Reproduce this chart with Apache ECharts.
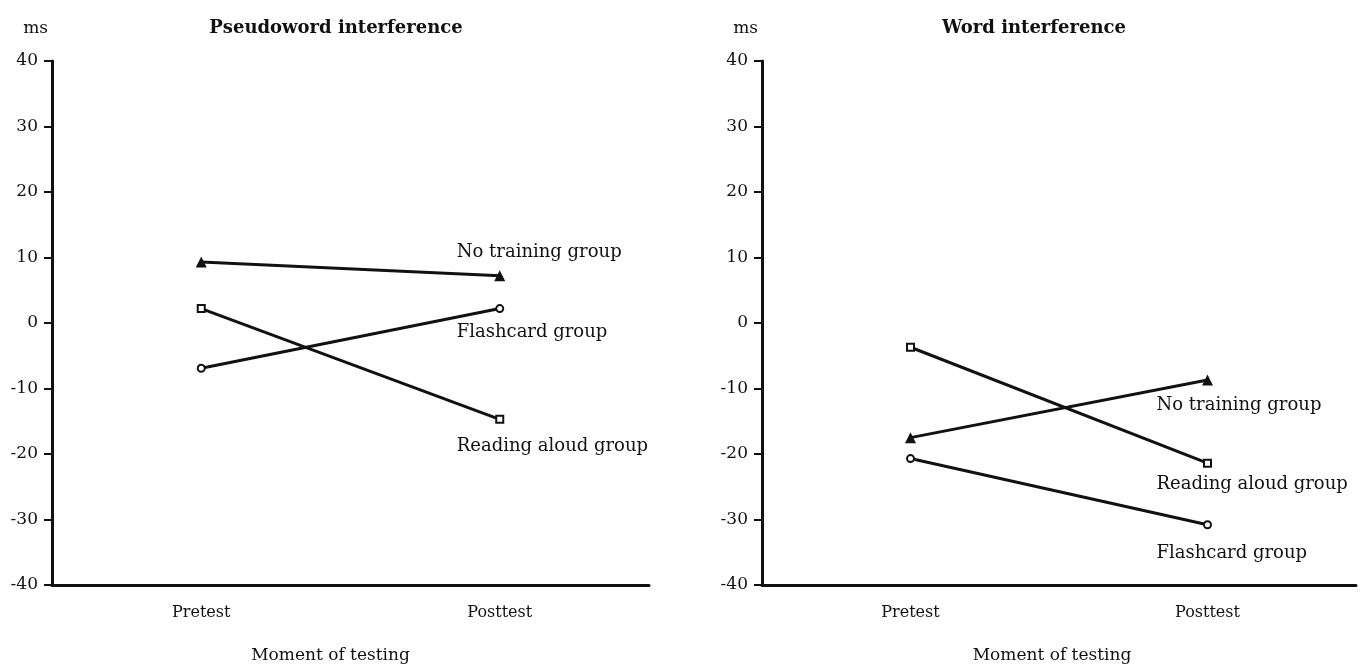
<!DOCTYPE html>
<html>
<head>
<meta charset="utf-8">
<script src="https://cdn.jsdelivr.net/npm/echarts@6/dist/echarts.min.js"></script>
<style>
  html, body { margin: 0; padding: 0; background: #fff; }
  #chart { width: 1360px; height: 669px; }
</style>
</head>
<body>
<div id="chart"></div>
<script>
// data
var moments = ['Pretest', 'Posttest'];
var yTicks = [-40, -30, -20, -10, 0, 10, 20, 30, 40];
var panelTitles = ['Pseudoword interference', 'Word interference'];

// pseudoword panel (ms)
var pseudoNoTraining = [9.3, 7.2];
var pseudoReadingAloud = [2.2, -14.7];
var pseudoFlashcard = [-6.9, 2.2];

// word panel (ms)
var wordNoTraining = [-17.5, -8.7];
var wordReadingAloud = [-3.7, -21.4];
var wordFlashcard = [-20.7, -30.8];

var font = 'DejaVu Serif';
var ink = '#111';

var chart = echarts.init(document.getElementById('chart'));

function xAxisFor(idx, shift) {
  return {
    type: 'category',
    gridIndex: idx,
    data: moments,
    boundaryGap: true,
    name: 'Moment of testing',
    nameLocation: 'middle',
    nameGap: 62,
    nameTextStyle: { fontFamily: font, fontSize: 17, color: ink, padding: [0, shift, 0, 0] },
    axisLine: { onZero: false, lineStyle: { color: ink, width: 3 } },
    axisTick: { alignWithLabel: true, length: 7, lineStyle: { color: ink, width: 2 } },
    axisLabel: { margin: 20, fontFamily: font, fontSize: 16, color: ink },
    splitLine: { show: false }
  };
}

function yAxisFor(idx) {
  return {
    type: 'value',
    gridIndex: idx,
    min: yTicks[0],
    max: yTicks[yTicks.length - 1],
    interval: 10,
    name: 'ms',
    nameLocation: 'end',
    nameGap: 24,
    nameTextStyle: { fontFamily: font, fontSize: 17, color: ink, align: 'right', padding: [0, 4, 0, 0] },
    axisLine: { show: true, onZero: false, lineStyle: { color: ink, width: 3 } },
    axisTick: { show: true, length: 8, lineStyle: { color: ink, width: 2 } },
    axisLabel: { margin: 14, fontFamily: font, fontSize: 17, color: ink },
    splitLine: { show: false }
  };
}

function groupLine(name, values, idx, symbol, dx, dy) {
  var hollow = symbol !== 'triangle';
  return {
    name: name,
    type: 'line',
    xAxisIndex: idx,
    yAxisIndex: idx,
    data: values,
    symbol: symbol,
    symbolSize: symbol === 'triangle' ? 11 : 7,
    showAllSymbol: true,
    lineStyle: { color: ink, width: 3 },
    itemStyle: { color: hollow ? '#fff' : ink, borderColor: ink, borderWidth: hollow ? 2 : 0 },
    endLabel: {
      show: true,
      formatter: '{a}',
      distance: 0,
      align: 'left',
      verticalAlign: 'middle',
      offset: [dx, dy],
      fontFamily: font,
      fontSize: 18,
      color: ink
    },
    emphasis: { disabled: true },
    animation: false,
    z: 3
  };
}

chart.setOption({
  backgroundColor: '#fff',
  title: [
    { text: panelTitles[0], left: 331, top: 14, textAlign: 'center',
      textStyle: { fontFamily: font, fontSize: 18, fontWeight: 'bold', color: ink } },
    { text: panelTitles[1], left: 1029, top: 14, textAlign: 'center',
      textStyle: { fontFamily: font, fontSize: 18, fontWeight: 'bold', color: ink } }
  ],
  grid: [
    { left: 52, top: 61, width: 597, height: 531 },
    { left: 762, top: 61, width: 594, height: 531 }
  ],
  xAxis: [xAxisFor(0, 40), xAxisFor(1, 14)],
  yAxis: [yAxisFor(0), yAxisFor(1)],
  series: [
    groupLine('No training group', pseudoNoTraining, 0, 'triangle', -43, -24),
    groupLine('Reading aloud group', pseudoReadingAloud, 0, 'rect', -43, 27),
    groupLine('Flashcard group', pseudoFlashcard, 0, 'circle', -43, 24),
    groupLine('No training group', wordNoTraining, 1, 'triangle', -51, 25),
    groupLine('Reading aloud group', wordReadingAloud, 1, 'rect', -51, 21),
    groupLine('Flashcard group', wordFlashcard, 1, 'circle', -51, 29)
  ]
});
</script>
</body>
</html>
